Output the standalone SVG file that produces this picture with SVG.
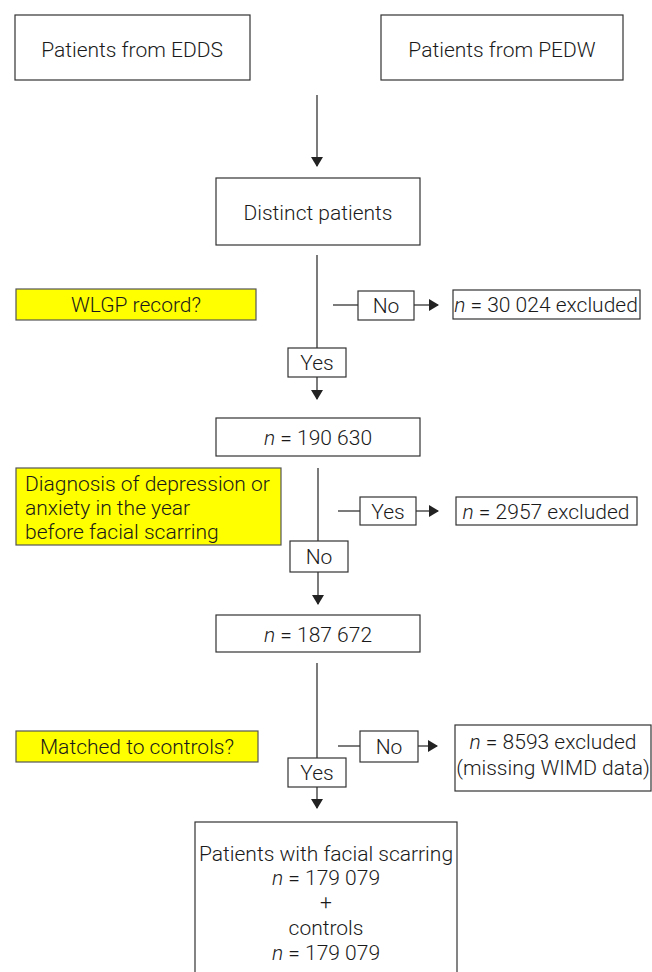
<svg xmlns="http://www.w3.org/2000/svg" width="652" height="972" viewBox="0 0 652 972">
<style>
.b{fill:#fff;stroke:#333;stroke-width:1.2}
.y{fill:#ffff00;stroke:#555;stroke-width:1.2}
.t{font-family:Roboto,"Open Sans","Liberation Sans",sans-serif;font-weight:300;font-size:21px;fill:#1a1a1a;text-anchor:middle}
.l{text-anchor:start}
.i{font-style:italic}
.c{stroke:#333;stroke-width:1.3;fill:none}
</style>
<defs>
<marker id="ah" markerWidth="10" markerHeight="12" refX="9" refY="6" orient="auto" markerUnits="userSpaceOnUse">
<path d="M0,0 L10,6 L0,12 Z" fill="#222"/>
</marker>
</defs>
<g id="edds"><rect class="b" x="15" y="15" width="235" height="65"/><text class="t" x="132" y="57">Patients from EDDS</text></g>
<g id="pedw"><rect class="b" x="381" y="15" width="242" height="65"/><text class="t" x="502" y="57">Patients from PEDW</text></g>
<g id="distinct"><rect class="b" x="216" y="178" width="204" height="67"/><text class="t" x="318" y="220">Distinct patients</text></g>
<g id="q1"><rect class="y" x="16" y="289" width="240" height="31"/><text class="t" x="136" y="312">WLGP record?</text></g>
<g id="no1"><rect class="b" x="358" y="291" width="56" height="29"/><text class="t" x="386" y="313">No</text></g>
<g id="ex1"><rect class="b" x="453" y="290" width="187" height="29"/><text class="t" x="546" y="312"><tspan class="i">n</tspan> = 30 024 excluded</text></g>
<g id="yes1"><rect class="b" x="288" y="348" width="58" height="29"/><text class="t" x="317" y="370">Yes</text></g>
<g id="n1"><rect class="b" x="216" y="418" width="204" height="38"/><text class="t" x="318" y="445"><tspan class="i">n</tspan> = 190 630</text></g>
<g id="q2"><rect class="y" x="16" y="468" width="265" height="77"/><text class="t l" x="25" y="491">Diagnosis of depression or</text><text class="t l" x="25" y="515">anxiety in the year</text><text class="t l" x="25" y="539">before facial scarring</text></g>
<g id="yes2"><rect class="b" x="360" y="497" width="56" height="28"/><text class="t" x="388" y="519">Yes</text></g>
<g id="ex2"><rect class="b" x="456" y="497" width="181" height="28"/><text class="t" x="546" y="519"><tspan class="i">n</tspan> = 2957 excluded</text></g>
<g id="no2"><rect class="b" x="290" y="541" width="58" height="31"/><text class="t" x="319" y="564">No</text></g>
<g id="n2"><rect class="b" x="216" y="615" width="204" height="37"/><text class="t" x="318" y="642"><tspan class="i">n</tspan> = 187 672</text></g>
<g id="q3"><rect class="y" x="16" y="731" width="242" height="31"/><text class="t" x="137" y="754">Matched to controls?</text></g>
<g id="no3"><rect class="b" x="360" y="731" width="58" height="31"/><text class="t" x="389" y="754">No</text></g>
<g id="ex3"><rect class="b" x="455" y="725" width="196" height="66"/><text class="t" x="553" y="749"><tspan class="i">n</tspan> = 8593 excluded</text><text class="t" x="553" y="775">(missing WIMD data)</text></g>
<g id="yes3"><rect class="b" x="288" y="758" width="58" height="29"/><text class="t" x="317" y="780">Yes</text></g>
<g id="final"><rect class="b" x="195" y="822" width="262" height="160"/>
<text class="t" x="326" y="861">Patients with facial scarring</text>
<text class="t" x="326" y="885"><tspan class="i">n</tspan> = 179 079</text>
<text class="t" x="326" y="909">+</text>
<text class="t" x="326" y="935">controls</text>
<text class="t" x="326" y="960"><tspan class="i">n</tspan> = 179 079</text></g>
<g id="connectors">
<path class="c" d="M317,95 V166" marker-end="url(#ah)"/>
<path class="c" d="M317,255 V348"/>
<path class="c" d="M317,377 V399" marker-end="url(#ah)"/>
<path class="c" d="M333,305 H358"/>
<path class="c" d="M414,305 H438" marker-end="url(#ah)"/>
<path class="c" d="M318,468 V541"/>
<path class="c" d="M318,572 V604" marker-end="url(#ah)"/>
<path class="c" d="M338,511 H360"/>
<path class="c" d="M416,511 H438" marker-end="url(#ah)"/>
<path class="c" d="M317,663 V758"/>
<path class="c" d="M317,787 V808" marker-end="url(#ah)"/>
<path class="c" d="M338,746 H360"/>
<path class="c" d="M418,746 H437" marker-end="url(#ah)"/>
</g>
</svg>
